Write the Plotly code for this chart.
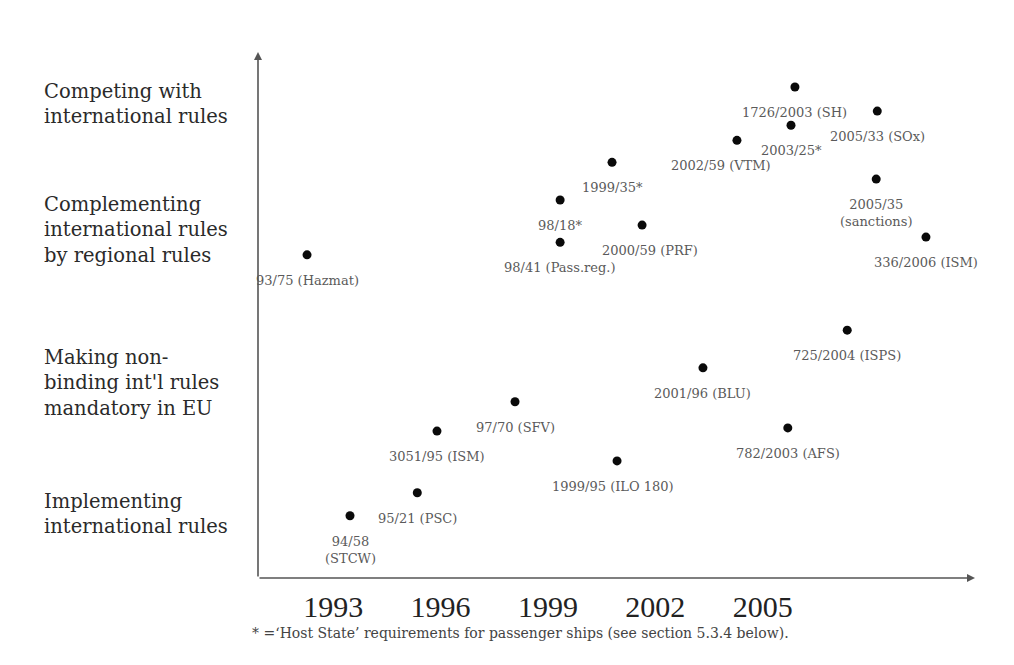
import plotly.graph_objects as go

# ---- data ----
labels = [
    "93/75 (Hazmat)", "94/58<br>(STCW)", "95/21 (PSC)", "3051/95 (ISM)", "97/70 (SFV)",
    "98/18*", "98/41 (Pass.reg.)", "1999/35*", "2000/59 (PRF)", "1999/95 (ILO 180)",
    "2001/96 (BLU)", "2002/59 (VTM)", "1726/2003 (SH)", "2003/25*", "782/2003 (AFS)",
    "725/2004 (ISPS)", "2005/33 (SOx)", "2005/35<br>(sanctions)", "336/2006 (ISM)",
]
years = [
    1992.27, 1993.47, 1995.35, 1995.9, 1998.08,
    1999.34, 1999.34, 2000.79, 2001.63, 2000.93,
    2003.33, 2004.28, 2005.9, 2005.79, 2005.7,
    2007.36, 2008.2, 2008.17, 2009.56,
]
levels = [
    6.18, 1.19, 1.63, 2.81, 3.37,
    7.23, 6.42, 7.95, 6.75, 2.24,
    4.02, 8.37, 9.39, 8.66, 2.87,
    4.74, 8.93, 7.63, 6.52,
]
label_dx = [
    0, 0, 0, 0, 0,
    0, 0, 0, 8, -4,
    0, -16, 0, 0, 0,
    0, 0, 0, 0,
]
categories = [
    "Competing with<br>international rules",
    "Complementing<br>international rules<br>by regional rules",
    "Making non-<br>binding int'l rules<br>mandatory in EU",
    "Implementing<br>international rules",
]
category_levels = [9.06, 6.65, 3.73, 1.22]
tick_years = [1993, 1996, 1999, 2002, 2005]
footnote = "* =\u2018Host State\u2019 requirements for passenger ships (see section 5.3.4 below)."

X0, X1 = 1990.9, 2010.93
Y0, Y1 = 0, 10.06

# page body has an 8px margin; figure coordinates are offset accordingly
W, H = 1006, 657
ML, MR, MT, MB = 250, 39, 44, 87
PW = W - ML - MR

fig = go.Figure()
fig.add_trace(go.Scatter(
    x=years, y=levels, mode="markers",
    marker=dict(color="#0a0a0a", size=9),
    hoverinfo="skip", showlegend=False,
))

ann = []
for lab, xv, yv, dx in zip(labels, years, levels, label_dx):
    ann.append(dict(x=xv, y=yv, xref="x", yref="y", text=lab, showarrow=False,
                    yanchor="top", xanchor="center", yshift=-16, xshift=dx,
                    font=dict(family="DejaVu Serif", size=13, color="#5a5a5a"),
                    align="center"))
for cat, yv in zip(categories, category_levels):
    ann.append(dict(x=(34 - ML) / PW, y=yv, xref="paper", yref="y", text=cat,
                    showarrow=False, xanchor="left", yanchor="middle", align="left",
                    font=dict(family="DejaVu Serif", size=19.5, color="#2a2a2a")))

# axes with arrows
ann.append(dict(x=X1, y=Y0, xref="x", yref="y", ax=X0, ay=Y0, axref="x", ayref="y",
                text="", showarrow=True, arrowhead=2, arrowsize=1, arrowwidth=1.6,
                arrowcolor="#555555"))
ann.append(dict(x=X0, y=Y1, xref="x", yref="y", ax=X0, ay=Y0, axref="x", ayref="y",
                text="", showarrow=True, arrowhead=2, arrowsize=1, arrowwidth=1.6,
                arrowcolor="#555555"))
ann.append(dict(x=(242 - ML) / PW, y=0.0, xref="paper", yref="paper",
                text=footnote, showarrow=False, xanchor="left", yanchor="middle",
                yshift=-55,
                font=dict(family="DejaVu Serif", size=14, color="#444444")))

fig.update_layout(
    width=W, height=H,
    margin=dict(l=ML, r=MR, t=MT, b=MB),
    paper_bgcolor="white", plot_bgcolor="white",
    annotations=ann,
    xaxis=dict(range=[X0, X1], tickvals=tick_years, ticktext=[str(t) for t in tick_years],
               showgrid=False, zeroline=False, showline=False,
               ticks="outside", ticklen=2, tickcolor="rgba(0,0,0,0)",
               tickfont=dict(family="Liberation Serif", size=30, color="#222222")),
    yaxis=dict(range=[Y0, Y1], showgrid=False, zeroline=False, showline=False,
               showticklabels=False, ticks=""),
)

fig.write_html("out.html")
